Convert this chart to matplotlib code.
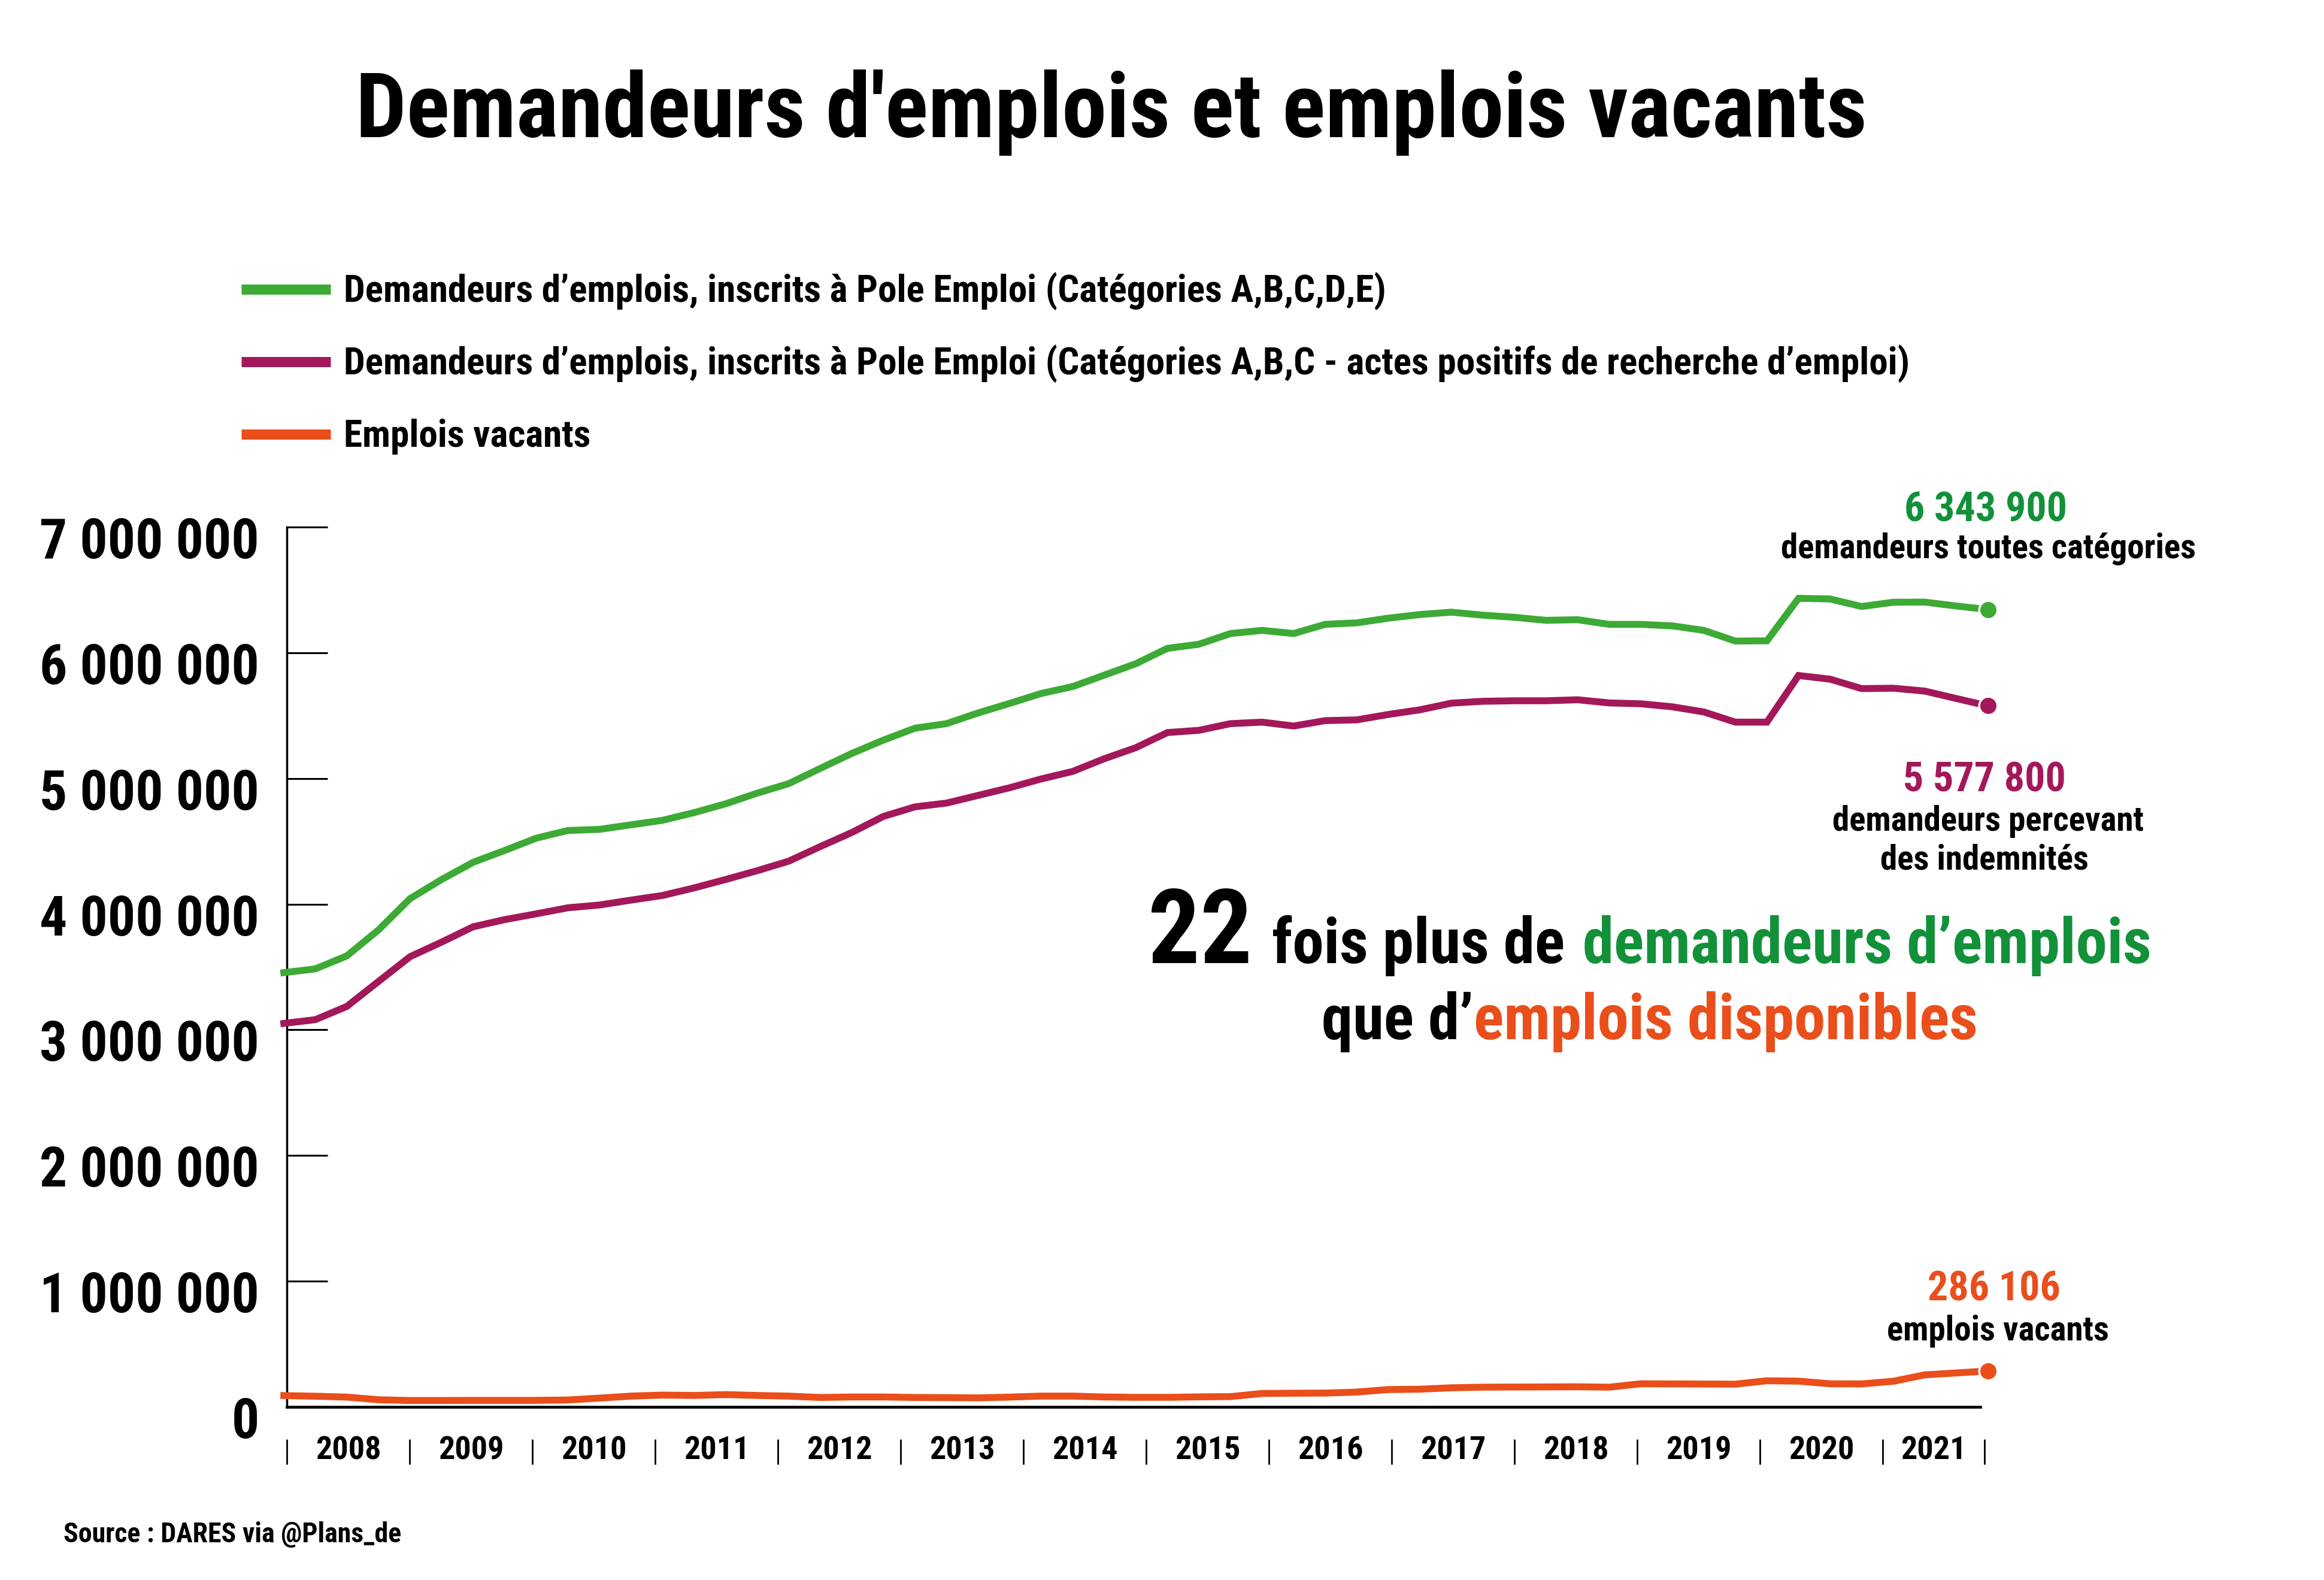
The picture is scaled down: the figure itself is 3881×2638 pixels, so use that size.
import numpy as np
import matplotlib
matplotlib.use("Agg")
import matplotlib.pyplot as plt
from matplotlib import font_manager as fm
from matplotlib.lines import Line2D
from matplotlib.ticker import FuncFormatter
from matplotlib.transforms import ScaledTranslation

# trimestres 2008T2 -> 2021T4
trimestres = ["%dT%d" % (y, q) for y in range(2008, 2022) for q in range(1, 5)][1:]

# demandeurs ABCDE (millions)
abcde = [3.455, 3.485, 3.589, 3.795, 4.044, 4.196, 4.333, 4.427, 4.525, 4.586,
         4.595, 4.631, 4.667, 4.728, 4.798, 4.883, 4.959, 5.080, 5.199, 5.305,
         5.400, 5.436, 5.521, 5.597, 5.676, 5.731, 5.822, 5.913,
         6.035, 6.068, 6.153, 6.178, 6.153, 6.226, 6.238, 6.275, 6.304, 6.323,
         6.299, 6.282, 6.258, 6.263, 6.226, 6.226, 6.214, 6.178, 6.093, 6.095,
         6.433, 6.428, 6.368, 6.402, 6.403, 6.372, 6.3439]

# demandeurs ABC (millions)
abc = [3.051, 3.081, 3.187, 3.385, 3.582, 3.698, 3.820, 3.877, 3.923, 3.971,
       3.993, 4.032, 4.069, 4.129, 4.196, 4.266, 4.342, 4.458, 4.570, 4.698,
       4.774, 4.804, 4.865, 4.926, 4.996, 5.056, 5.157, 5.245,
       5.365, 5.383, 5.436, 5.448, 5.417, 5.460, 5.466, 5.509, 5.546, 5.599,
       5.614, 5.618, 5.618, 5.626, 5.601, 5.594, 5.570, 5.529, 5.448, 5.448,
       5.819, 5.790, 5.715, 5.718, 5.695, 5.636, 5.5778]

# emplois vacants (milliers)
vacants = [90, 85, 78, 57, 51, 51, 52, 52, 52, 55,
           70, 86, 94, 91, 98, 91, 86, 75, 79, 79,
           75, 74, 72, 78, 86, 86, 79, 76, 76, 80,
           82, 107, 109, 110, 118, 138, 141, 152, 157, 158,
           159, 160, 157, 184, 183, 182, 181, 208, 205, 184,
           183, 204, 255, 270, 286.106]

annees = list(range(2008, 2022))
yticks = [0, 1000000, 2000000, 3000000, 4000000, 5000000, 6000000, 7000000]

GREEN = "#3DAA35"
GREEN_TXT = "#12913A"
PURPLE = "#A3185A"
ORANGE = "#E94E1B"

# police condensée si disponible
names = {f.name for f in fm.fontManager.ttflist}
FONT = "DejaVu Sans"
for cand in ["Liberation Sans Narrow", "Roboto Condensed", "Open Sans Condensed",
             "Noto Sans Condensed", "Liberation Sans"]:
    if cand in names:
        FONT = cand
        break
plt.rcParams["font.family"] = [FONT, "DejaVu Sans"]
plt.rcParams["font.weight"] = "bold"

W, H = 3881, 2638
fig = plt.figure(figsize=(W / 100, H / 100), dpi=100)
ax = fig.add_axes([479 / W, 1 - 2349 / H, 2828 / W, 1469 / H])

x = np.arange(len(abcde))
y1 = np.array(abcde) * 1e6
y2 = np.array(abc) * 1e6
y3 = np.array(vacants) * 1e3

for yy, c in [(y3, ORANGE), (y2, PURPLE), (y1, GREEN)]:
    ax.plot(x, yy, color=c, lw=8.3, solid_joinstyle="miter", clip_on=False, zorder=3)
    ax.plot(x[-1], yy[-1], "o", color=c, ms=22, mec="white", mew=2.5, clip_on=False, zorder=4)

ax.set_xlim(0.095, 53.76)
ax.set_ylim(0, 7000000)
ax.set_yticks(yticks)
ax.yaxis.set_major_formatter(FuncFormatter(lambda v, p: "{:,}".format(int(v)).replace(",", " ")))
ax.tick_params(axis="y", direction="in", length=49, width=2.2, pad=33, labelsize=66)
for lab in ax.get_yticklabels():
    lab.set_fontweight("bold")
    lab.set_transform(lab.get_transform() + ScaledTranslation(0, -0.17, fig.dpi_scale_trans))
ax.set_xticks([])
for s in ["top", "right"]:
    ax.spines[s].set_visible(False)
ax.spines["left"].set_linewidth(2.5)
ax.spines["bottom"].set_linewidth(3.4)

# axe des années (séparateurs + libellés)
yrs = ax.twiny()
yrs.set_xlim(2008, 2008 + 2828 / 205)
yrs.axis("off")
seps = annees + [2021.83]
yrs.vlines(seps, -0.0654, -0.0368, transform=yrs.get_xaxis_transform(),
           color="black", lw=2.0, clip_on=False)
for a, b in zip(seps[:-1], seps[1:]):
    yrs.text((a + b) / 2, -0.0497, str(int(a)), transform=yrs.get_xaxis_transform(),
             ha="center", va="center", fontsize=39, fontweight="bold")

# titre
fig.text(1856 / W, 1 - 229 / H, "Demandeurs d'emplois et emplois vacants",
         ha="center", va="baseline", fontsize=108, fontweight="bold")

# légende
leg = [(GREEN, "Demandeurs d’emplois, inscrits à Pole Emploi (Catégories A,B,C,D,E)"),
       (PURPLE, "Demandeurs d’emplois, inscrits à Pole Emploi (Catégories A,B,C - actes positifs de recherche d’emploi)"),
       (ORANGE, "Emplois vacants")]
for i, (c, lab) in enumerate(leg):
    yc = 483 + 121 * i
    fig.add_artist(Line2D([403 / W, 552 / W], [1 - yc / H, 1 - yc / H], color=c,
                          lw=12.2, solid_capstyle="butt"))
    fig.text(574 / W, 1 - (yc + 21) / H, lab, ha="left", va="baseline",
             fontsize=45.5, fontweight="bold")

# annotations des dernières valeurs
notes = [(3316, 870, "6 343 900", GREEN_TXT, 49),
         (3320, 932, "demandeurs toutes catégories", "black", 41),
         (3314, 1322, "5 577 800", PURPLE, 49),
         (3320, 1387, "demandeurs percevant", "black", 41),
         (3314, 1452, "des indemnités", "black", 41),
         (3330, 2172, "286 106", ORANGE, 49),
         (3336, 2238, "emplois vacants", "black", 41)]
for px, py, s, c, fs in notes:
    fig.text(px / W, 1 - py / H, s, ha="center", va="baseline", color=c,
             fontsize=fs, fontweight="bold")


def rich_line(pieces, xc, yb):
    texts = []
    for s, c, fs, gap in pieces:
        t = fig.text(0, 1 - yb / H, s, ha="left", va="baseline", color=c,
                     fontsize=fs, fontweight="bold")
        texts.append((t, gap))
    fig.canvas.draw()
    r = fig.canvas.get_renderer()
    widths = [t.get_window_extent(r).width + g for t, g in texts]
    xx = xc - sum(widths) / 2
    for (t, g), w in zip(texts, widths):
        t.set_x(xx / W)
        xx += w


rich_line([("22", "black", 124, 32), ("fois plus de", "black", 75.5, 30),
           ("demandeurs d’emplois", GREEN_TXT, 75.5, 0)], 2755, 1608)
rich_line([("que d’", "black", 75.5, 0), ("emplois disponibles", ORANGE, 75.5, 0)], 2755, 1735)

fig.text(106 / W, 1 - 2575 / H, "Source : DARES via @Plans_de", ha="left",
         va="baseline", fontsize=33, fontweight="bold")

fig.savefig("out.png", dpi=100)
